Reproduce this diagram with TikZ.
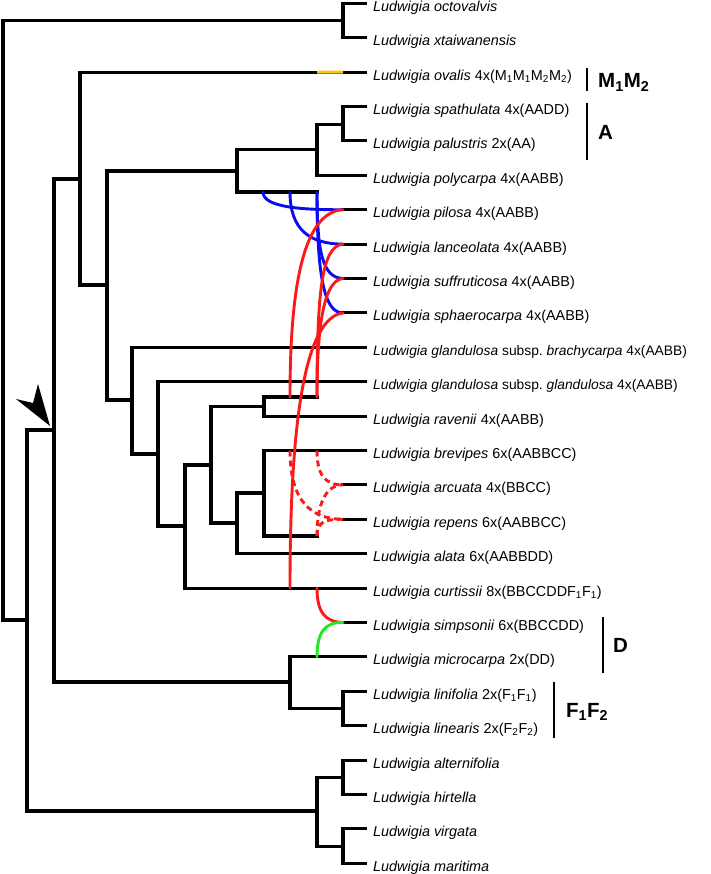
\documentclass[tikz,border=0pt]{standalone}
\usepackage{fontspec}
\setmainfont{Liberation Sans}
\frenchspacing
\newcommand\Lw[1]{\textit{Ludwigia #1}}
\newcommand\sbs[1]{\textsubscript{#1}}
\begin{document}
\begin{tikzpicture}[x=1pt,y=-1pt,
  tree/.style={line width=3.1pt, line join=miter, line cap=rect},
  hyb/.style={line width=2.9pt, line cap=round},
  blueh/.style={hyb, draw=hblue},
  redh/.style={hyb, draw=hred},
  redd/.style={line width=2.9pt, draw=hred, dash pattern=on 6pt off 4pt},
  greenh/.style={hyb, draw=hgreen},
  lab/.style={anchor=base west, inner sep=0pt, font=\fontsize{14.4}{17}\selectfont},
  labn/.style={lab, font=\fontsize{13.8}{17}\selectfont},
  grp/.style={anchor=base west, inner sep=0pt, font=\fontsize{20.5}{24}\selectfont\bfseries},
  bar/.style={line width=2.2pt}]
\definecolor{hblue}{HTML}{0A0AF5}
\definecolor{hred}{HTML}{FA1A1A}
\definecolor{hgreen}{HTML}{1EEB1E}
\definecolor{hyellow}{HTML}{FFC20E}
\useasboundingbox (0,0) rectangle (710,874);
% leaf coordinates
\foreach \i in {1,...,26}{
  \pgfmathsetmacro\yy{3.3+34.4*(\i-1)}
  \coordinate (l\i) at (365,\yy);
  \coordinate (h\i) at (343,\yy);
}
% labels
\node[lab] (t1) at ([xshift=8pt,yshift=-8pt]l1) {\Lw{octovalvis}};
\node[lab] (t2) at ([xshift=8pt,yshift=-8pt]l2) {\Lw{xtaiwanensis}};
\node[lab] (t3) at ([xshift=8pt,yshift=-8pt]l3) {\Lw{ovalis} 4x(M\sbs{1}M\sbs{1}M\sbs{2}M\sbs{2})};
\node[lab] (t4) at ([xshift=8pt,yshift=-8pt]l4) {\Lw{spathulata} 4x(AADD)};
\node[lab] (t5) at ([xshift=8pt,yshift=-8pt]l5) {\Lw{palustris} 2x(AA)};
\node[lab] (t6) at ([xshift=8pt,yshift=-8pt]l6) {\Lw{polycarpa} 4x(AABB)};
\node[lab] (t7) at ([xshift=8pt,yshift=-8pt]l7) {\Lw{pilosa} 4x(AABB)};
\node[lab] (t8) at ([xshift=8pt,yshift=-8pt]l8) {\Lw{lanceolata} 4x(AABB)};
\node[lab] (t9) at ([xshift=8pt,yshift=-8pt]l9) {\Lw{suffruticosa} 4x(AABB)};
\node[lab] (t10) at ([xshift=8pt,yshift=-8pt]l10) {\Lw{sphaerocarpa} 4x(AABB)};
\node[labn] (t11) at ([xshift=8pt,yshift=-8pt]l11) {\Lw{glandulosa} subsp. \textit{brachycarpa} 4x(AABB)};
\node[labn] (t12) at ([xshift=8pt,yshift=-8pt]l12) {\Lw{glandulosa} subsp. \textit{glandulosa} 4x(AABB)};
\node[lab] (t13) at ([xshift=8pt,yshift=-8pt]l13) {\Lw{ravenii} 4x(AABB)};
\node[lab] (t14) at ([xshift=8pt,yshift=-8pt]l14) {\Lw{brevipes} 6x(AABBCC)};
\node[lab] (t15) at ([xshift=8pt,yshift=-8pt]l15) {\Lw{arcuata} 4x(BBCC)};
\node[lab] (t16) at ([xshift=8pt,yshift=-8pt]l16) {\Lw{repens} 6x(AABBCC)};
\node[lab] (t17) at ([xshift=8pt,yshift=-8pt]l17) {\Lw{alata} 6x(AABBDD)};
\node[lab] (t18) at ([xshift=8pt,yshift=-8pt]l18) {\Lw{curtissii} 8x(BBCCDDF\sbs{1}F\sbs{1})};
\node[lab] (t19) at ([xshift=8pt,yshift=-8pt]l19) {\Lw{simpsonii} 6x(BBCCDD)};
\node[lab] (t20) at ([xshift=8pt,yshift=-8pt]l20) {\Lw{microcarpa} 2x(DD)};
\node[lab] (t21) at ([xshift=8pt,yshift=-8pt]l21) {\Lw{linifolia} 2x(F\sbs{1}F\sbs{1})};
\node[lab] (t22) at ([xshift=8pt,yshift=-8pt]l22) {\Lw{linearis} 2x(F\sbs{2}F\sbs{2})};
\node[lab] (t23) at ([xshift=8pt,yshift=-8pt]l23) {\Lw{alternifolia}};
\node[lab] (t24) at ([xshift=8pt,yshift=-8pt]l24) {\Lw{hirtella}};
\node[lab] (t25) at ([xshift=8pt,yshift=-8pt]l25) {\Lw{virgata}};
\node[lab] (t26) at ([xshift=8pt,yshift=-8pt]l26) {\Lw{maritima}};
% internal nodes
\coordinate (n0) at (3,320);
\coordinate (oc) at (343,20.5);
\coordinate (n1) at (27,620);
\coordinate (n12b) at (317,811);
\coordinate (ah) at (343,777.5);
\coordinate (vm) at (343,846.1);
\coordinate (n2) at (54,430);
\coordinate (n11) at (290,682);
\coordinate (lf) at (343,708.2);
\coordinate (n3) at (80,179);
\coordinate (n4) at (107,285);
\coordinate (n9a) at (237,171);
\coordinate (n12a) at (317,149.5);
\coordinate (sp) at (343,124.1);
\coordinate (gB) at (317,192);
\coordinate (n5) at (132,400);
\coordinate (n6) at (158,454);
\coordinate (n7) at (185,526);
\coordinate (n8) at (211,465);
\coordinate (n10a) at (264,406.5);
\coordinate (gR) at (317,397);
\coordinate (n9b) at (237,523);
\coordinate (n10b) at (264,493);
\coordinate (gD) at (317,536);
% tree
\draw[tree] (l1) -| (oc) |- (l2);
\draw[tree] (oc) -| (n0) |- (n1);
\draw[tree] (n2) -| (n1) |- (n12b);
\draw[tree] (ah) -| (n12b) |- (vm);
\draw[tree] (l23) -| (ah) |- (l24);
\draw[tree] (l25) -| (vm) |- (l26);
\draw[tree] (n3) -| (n2) |- (n11);
\draw[tree] (l20) -| (n11) |- (lf);
\draw[tree] (l21) -| (lf) |- (l22);
\draw[tree] (l3) -| (n3) |- (n4);
\draw[tree] (n9a) -| (n4) |- (n5);
\draw[tree] (n12a) -| (n9a) |- (gB);
\draw[tree] (sp) -| (n12a) |- (l6);
\draw[tree] (l4) -| (sp) |- (l5);
\draw[tree] (l11) -| (n5) |- (n6);
\draw[tree] (l12) -| (n6) |- (n7);
\draw[tree] (n8) -| (n7) |- (l18);
\draw[tree] (n10a) -| (n8) |- (n9b);
\draw[tree] (gR) -| (n10a) |- (l13);
\draw[tree] (n10b) -| (n9b) |- (l17);
\draw[tree] (l14) -| (n10b) |- (gD);
\foreach \i in {7,8,9,10,15,16,19}{ \draw[tree] (h\i) -- (l\i); }
% yellow segment on ovalis
\coordinate (ya) at (317,\fpeval{3.3+34.4*2});
\draw[line width=3.1pt, draw=hyellow] (ya) -- (h3);
% hybrid start points
\coordinate (b1) at (263,192);
\coordinate (b2) at (290,192);
\coordinate (r1) at (290,397);
\coordinate (d1) at (290,450.5);
\coordinate (d2) at (317,450.5);
\coordinate (c1) at (290,588);
\coordinate (c2) at (317,588);
\coordinate (m1) at (317,657);
% blue
\draw[blueh] (b1) .. controls (263,207) and (300,210) .. (h7);
\draw[blueh] (b2) .. controls (290,230) and (310,244) .. (h8);
\draw[blueh] (gB) .. controls (317,250) and (322,278) .. (h9);
\draw[blueh] (gB) .. controls (317,280) and (325,313) .. (h10);
% red solid
\draw[redh] (r1) .. controls (290,280) and (305,212) .. (h7);
\draw[redh] (gR) .. controls (317,290) and (322,246) .. (h8);
\draw[redh] (gR) .. controls (317,320) and (325,280) .. (h9);
\draw[redh] (c1) .. controls (290,420) and (305,318) .. (h10);
\draw[redh] (c2) .. controls (317,612) and (325,622) .. (h19);
% red dashed
\draw[redd] (d1) .. controls (290,500) and (310,519) .. (h16);
\draw[redd] (d2) .. controls (317,475) and (325,485) .. (h15);
\draw[redd] (gD) .. controls (317,505) and (325,485) .. (h15);
\draw[redd] (gD) .. controls (317,522) and (325,519) .. (h16);
% green
\draw[greenh] (m1) .. controls (317,632) and (325,622) .. (h19);
% arrowhead
\coordinate (aT) at (50,426);
\coordinate (aL) at (16,399);
\coordinate (aN) at (33,403);
\coordinate (aU) at (38,384);
\fill (aT) -- (aL) -- (aN) -- (aU) -- cycle;
% group bars and labels
\coordinate (bM1) at (587,68); \coordinate (bM2) at (587,91);
\coordinate (bA1) at (587,103); \coordinate (bA2) at (587,160);
\coordinate (bD1) at (603,617); \coordinate (bD2) at (603,673);
\coordinate (bF1) at (554,682); \coordinate (bF2) at (554,738);
\draw[bar] (bM1) -- (bM2);
\draw[bar] (bA1) -- (bA2);
\draw[bar] (bD1) -- (bD2);
\draw[bar] (bF1) -- (bF2);
\node[grp] (gM) at (598,88) {M\sbs{1}M\sbs{2}};
\node[grp] (gA) at (598,140) {A};
\node[grp] (gDl) at (613,652) {D};
\node[grp] (gF) at (566,717) {F\sbs{1}F\sbs{2}};
\end{tikzpicture}
\end{document}
